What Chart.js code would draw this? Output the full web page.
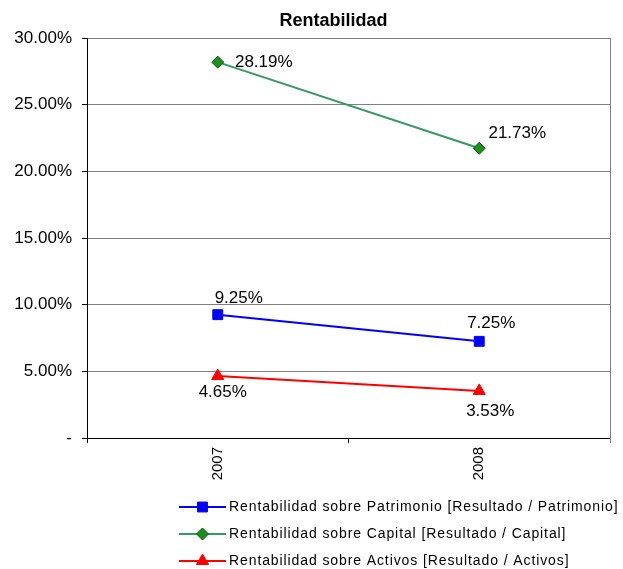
<!DOCTYPE html>
<html>
<head>
<meta charset="utf-8">
<script src="https://cdn.jsdelivr.net/npm/chart.js@4/dist/chart.umd.min.js"></script>
<style>
  html, body { margin: 0; padding: 0; background: #fff; }
  #wrap { width: 623px; height: 569px; position: relative; }
</style>
</head>
<body>
<div id="wrap"><canvas id="c"></canvas></div>
<script>
// ---- data ----
const chartTitle = 'Rentabilidad';
const categories = ['2007', '2008'];
const patrimonio = [9.25, 7.25];
const capital = [28.19, 21.73];
const activos = [4.65, 3.53];
const seriesNames = [
  'Rentabilidad sobre Patrimonio [Resultado / Patrimonio]',
  'Rentabilidad sobre Capital [Resultado / Capital]',
  'Rentabilidad sobre Activos [Resultado / Activos]'
];
const yTickMin = 0, yTickMax = 30, yTickStep = 5;

// ---- styling (label offsets relative to point, in px) ----
const labelOffsets = [
  [[21, -12], [12, -13]],
  [[46, 5], [38, -10]],
  [[5, 21], [11, 25]]
];

const FONT = "'Liberation Sans', Arial, sans-serif";
Chart.defaults.font.family = FONT;
Chart.defaults.color = '#000';

const pluginDecor = {
  id: 'decor',
  afterDraw(chart) {
    const ctx = chart.ctx;
    const a = chart.chartArea;
    ctx.save();
    // right border
    ctx.strokeStyle = '#808080';
    ctx.lineWidth = 1;
    ctx.beginPath();
    ctx.moveTo(Math.round(a.right) + 0.5, a.top);
    ctx.lineTo(Math.round(a.right) + 0.5, a.bottom + 5);
    ctx.stroke();

    // title
    ctx.fillStyle = '#000';
    ctx.font = 'bold 18px ' + FONT;
    ctx.textAlign = 'center';
    ctx.textBaseline = 'alphabetic';
    ctx.fillText(chartTitle, 333.5, 26);

    // data labels
    ctx.font = '17px ' + FONT;
    chart.data.datasets.forEach((ds, di) => {
      const meta = chart.getDatasetMeta(di);
      meta.data.forEach((pt, i) => {
        const off = labelOffsets[di][i];
        ctx.fillText(ds.data[i].toFixed(2) + '%', pt.x + off[0], pt.y + off[1]);
      });
    });

    // legend
    const legX0 = 179, legX1 = 226, legMarker = 202.5, legText = 229;
    const legY = [507, 534, 561];
    chart.data.datasets.forEach((ds, di) => {
      const y = legY[di];
      ctx.strokeStyle = ds.borderColor;
      ctx.lineWidth = 2;
      ctx.beginPath();
      ctx.moveTo(legX0, y);
      ctx.lineTo(legX1, y);
      ctx.stroke();
      ctx.fillStyle = ds.pointBackgroundColor;
      ctx.strokeStyle = ds.pointBorderColor;
      ctx.lineWidth = 1;
      Chart.helpers.drawPoint(ctx, {pointStyle: ds.pointStyle, radius: ds.pointRadius, rotation: 0, borderWidth: 1}, legMarker, y);
      ctx.fillStyle = '#000';
      ctx.font = '14px ' + FONT;
      ctx.letterSpacing = '0.9px';
      ctx.textAlign = 'left';
      ctx.textBaseline = 'middle';
      ctx.fillText(ds.label, legText, y);
      ctx.letterSpacing = '0px';
    });
    ctx.restore();
  }
};

new Chart(document.getElementById('c'), {
  type: 'line',
  data: {
    labels: categories,
    datasets: [
      {
        label: seriesNames[0], data: patrimonio,
        borderColor: '#0000FF', backgroundColor: '#0000FF',
        pointBackgroundColor: '#0000FF', pointBorderColor: '#0000FF',
        pointStyle: 'rect', pointRadius: 7, borderWidth: 2, pointBorderWidth: 1
      },
      {
        label: seriesNames[1], data: capital,
        borderColor: '#339966', backgroundColor: '#339966',
        pointBackgroundColor: '#1E8C1E', pointBorderColor: '#006400',
        pointStyle: 'rectRot', pointRadius: 6, borderWidth: 2, pointBorderWidth: 1
      },
      {
        label: seriesNames[2], data: activos,
        borderColor: '#FF0000', backgroundColor: '#FF0000',
        pointBackgroundColor: '#FF0000', pointBorderColor: '#FF0000',
        pointStyle: 'triangle', pointRadius: 7, borderWidth: 2, pointBorderWidth: 1
      }
    ]
  },
  options: {
    responsive: true,
    maintainAspectRatio: false,
    animation: false,
    events: [],
    layout: { padding: { top: 38, right: 13, left: 0, bottom: 0 } },
    plugins: {
      legend: { display: false },
      title: { display: false },
      tooltip: { enabled: false }
    },
    scales: {
      x: {
        offset: true,
        grid: { display: true, offset: true, drawOnChartArea: false, drawTicks: true, tickLength: 5, tickColor: '#000' },
        border: { display: true, color: '#000', width: 1 },
        ticks: { minRotation: 90, maxRotation: 90, padding: 4, color: '#000', font: { size: 15 } },
        afterFit(scale) { scale.height = 131; }
      },
      y: {
        min: yTickMin, max: yTickMax,
        grid: { color: '#808080', lineWidth: 1, drawTicks: true, tickLength: 5, tickColor: '#000' },
        border: { display: true, color: '#000', width: 1 },
        ticks: {
          stepSize: yTickStep, padding: 10, color: '#000', font: { size: 17 },
          callback: v => v === 0 ? '-' : v.toFixed(2) + '%'
        },
        afterFit(scale) { scale.width = 87; }
      }
    }
  },
  plugins: [pluginDecor]
});
</script>
</body>
</html>
